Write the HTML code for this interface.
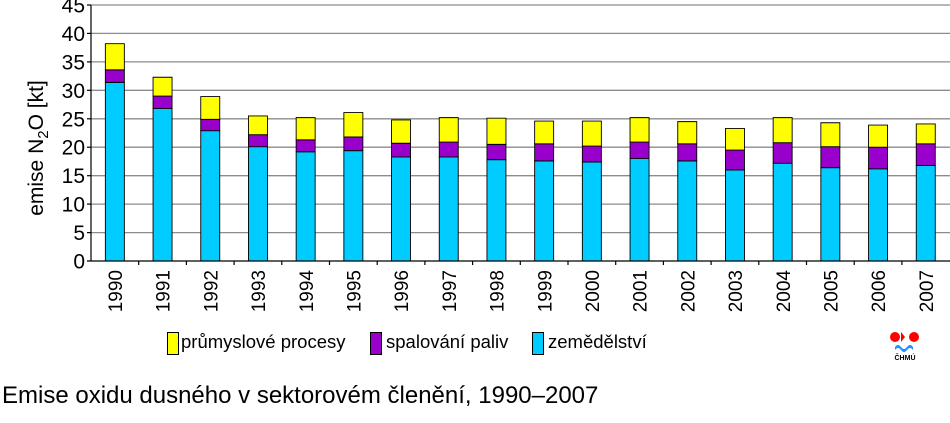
<!DOCTYPE html>
<html><head><meta charset="utf-8"><style>
html,body{margin:0;padding:0;background:#fff;}
svg{display:block;font-family:"Liberation Sans",Arial,sans-serif;}
</style></head><body>
<svg width="950" height="423" viewBox="0 0 950 423" xmlns="http://www.w3.org/2000/svg">
<g stroke="#8c8c8c" stroke-width="1.3">
<line x1="91" x2="950" y1="232.6" y2="232.6"/>
<line x1="91" x2="950" y1="204.1" y2="204.1"/>
<line x1="91" x2="950" y1="175.7" y2="175.7"/>
<line x1="91" x2="950" y1="147.2" y2="147.2"/>
<line x1="91" x2="950" y1="118.8" y2="118.8"/>
<line x1="91" x2="950" y1="90.3" y2="90.3"/>
<line x1="91" x2="950" y1="61.9" y2="61.9"/>
<line x1="91" x2="950" y1="33.4" y2="33.4"/>
<line x1="91" x2="950" y1="5" y2="5"/>
</g>
<g transform="translate(0,261) scale(1,-5.689)" stroke="#000" stroke-width="0.9">
<rect x="105.35" y="0" width="19" height="31.4" fill="#00ccff" vector-effect="non-scaling-stroke"/>
<rect x="105.35" y="31.4" width="19" height="2.2" fill="#9900cc" vector-effect="non-scaling-stroke"/>
<rect x="105.35" y="33.6" width="19" height="4.6" fill="#ffff00" vector-effect="non-scaling-stroke"/>
<rect x="153.05" y="0" width="19" height="26.8" fill="#00ccff" vector-effect="non-scaling-stroke"/>
<rect x="153.05" y="26.8" width="19" height="2.2" fill="#9900cc" vector-effect="non-scaling-stroke"/>
<rect x="153.05" y="29.0" width="19" height="3.3" fill="#ffff00" vector-effect="non-scaling-stroke"/>
<rect x="200.75" y="0" width="19" height="22.9" fill="#00ccff" vector-effect="non-scaling-stroke"/>
<rect x="200.75" y="22.9" width="19" height="2.0" fill="#9900cc" vector-effect="non-scaling-stroke"/>
<rect x="200.75" y="24.9" width="19" height="4.0" fill="#ffff00" vector-effect="non-scaling-stroke"/>
<rect x="248.45" y="0" width="19" height="20.1" fill="#00ccff" vector-effect="non-scaling-stroke"/>
<rect x="248.45" y="20.1" width="19" height="2.1" fill="#9900cc" vector-effect="non-scaling-stroke"/>
<rect x="248.45" y="22.2" width="19" height="3.3" fill="#ffff00" vector-effect="non-scaling-stroke"/>
<rect x="296.15" y="0" width="19" height="19.2" fill="#00ccff" vector-effect="non-scaling-stroke"/>
<rect x="296.15" y="19.2" width="19" height="2.1" fill="#9900cc" vector-effect="non-scaling-stroke"/>
<rect x="296.15" y="21.3" width="19" height="3.9" fill="#ffff00" vector-effect="non-scaling-stroke"/>
<rect x="343.85" y="0" width="19" height="19.4" fill="#00ccff" vector-effect="non-scaling-stroke"/>
<rect x="343.85" y="19.4" width="19" height="2.4" fill="#9900cc" vector-effect="non-scaling-stroke"/>
<rect x="343.85" y="21.8" width="19" height="4.3" fill="#ffff00" vector-effect="non-scaling-stroke"/>
<rect x="391.55" y="0" width="19" height="18.3" fill="#00ccff" vector-effect="non-scaling-stroke"/>
<rect x="391.55" y="18.3" width="19" height="2.4" fill="#9900cc" vector-effect="non-scaling-stroke"/>
<rect x="391.55" y="20.7" width="19" height="4.1" fill="#ffff00" vector-effect="non-scaling-stroke"/>
<rect x="439.25" y="0" width="19" height="18.3" fill="#00ccff" vector-effect="non-scaling-stroke"/>
<rect x="439.25" y="18.3" width="19" height="2.6" fill="#9900cc" vector-effect="non-scaling-stroke"/>
<rect x="439.25" y="20.9" width="19" height="4.3" fill="#ffff00" vector-effect="non-scaling-stroke"/>
<rect x="486.95" y="0" width="19" height="17.8" fill="#00ccff" vector-effect="non-scaling-stroke"/>
<rect x="486.95" y="17.8" width="19" height="2.7" fill="#9900cc" vector-effect="non-scaling-stroke"/>
<rect x="486.95" y="20.5" width="19" height="4.6" fill="#ffff00" vector-effect="non-scaling-stroke"/>
<rect x="534.65" y="0" width="19" height="17.6" fill="#00ccff" vector-effect="non-scaling-stroke"/>
<rect x="534.65" y="17.6" width="19" height="3.0" fill="#9900cc" vector-effect="non-scaling-stroke"/>
<rect x="534.65" y="20.6" width="19" height="4.0" fill="#ffff00" vector-effect="non-scaling-stroke"/>
<rect x="582.35" y="0" width="19" height="17.4" fill="#00ccff" vector-effect="non-scaling-stroke"/>
<rect x="582.35" y="17.4" width="19" height="2.8" fill="#9900cc" vector-effect="non-scaling-stroke"/>
<rect x="582.35" y="20.2" width="19" height="4.4" fill="#ffff00" vector-effect="non-scaling-stroke"/>
<rect x="630.05" y="0" width="19" height="18.0" fill="#00ccff" vector-effect="non-scaling-stroke"/>
<rect x="630.05" y="18.0" width="19" height="2.9" fill="#9900cc" vector-effect="non-scaling-stroke"/>
<rect x="630.05" y="20.9" width="19" height="4.3" fill="#ffff00" vector-effect="non-scaling-stroke"/>
<rect x="677.75" y="0" width="19" height="17.6" fill="#00ccff" vector-effect="non-scaling-stroke"/>
<rect x="677.75" y="17.6" width="19" height="3.0" fill="#9900cc" vector-effect="non-scaling-stroke"/>
<rect x="677.75" y="20.6" width="19" height="3.9" fill="#ffff00" vector-effect="non-scaling-stroke"/>
<rect x="725.45" y="0" width="19" height="16.0" fill="#00ccff" vector-effect="non-scaling-stroke"/>
<rect x="725.45" y="16.0" width="19" height="3.5" fill="#9900cc" vector-effect="non-scaling-stroke"/>
<rect x="725.45" y="19.5" width="19" height="3.8" fill="#ffff00" vector-effect="non-scaling-stroke"/>
<rect x="773.15" y="0" width="19" height="17.2" fill="#00ccff" vector-effect="non-scaling-stroke"/>
<rect x="773.15" y="17.2" width="19" height="3.6" fill="#9900cc" vector-effect="non-scaling-stroke"/>
<rect x="773.15" y="20.8" width="19" height="4.4" fill="#ffff00" vector-effect="non-scaling-stroke"/>
<rect x="820.85" y="0" width="19" height="16.4" fill="#00ccff" vector-effect="non-scaling-stroke"/>
<rect x="820.85" y="16.4" width="19" height="3.7" fill="#9900cc" vector-effect="non-scaling-stroke"/>
<rect x="820.85" y="20.1" width="19" height="4.2" fill="#ffff00" vector-effect="non-scaling-stroke"/>
<rect x="868.55" y="0" width="19" height="16.2" fill="#00ccff" vector-effect="non-scaling-stroke"/>
<rect x="868.55" y="16.2" width="19" height="3.8" fill="#9900cc" vector-effect="non-scaling-stroke"/>
<rect x="868.55" y="20.0" width="19" height="3.9" fill="#ffff00" vector-effect="non-scaling-stroke"/>
<rect x="916.25" y="0" width="19" height="16.8" fill="#00ccff" vector-effect="non-scaling-stroke"/>
<rect x="916.25" y="16.8" width="19" height="3.8" fill="#9900cc" vector-effect="non-scaling-stroke"/>
<rect x="916.25" y="20.6" width="19" height="3.5" fill="#ffff00" vector-effect="non-scaling-stroke"/>
</g>
<g stroke="#000" stroke-width="1.2">
<line x1="91" y1="5" x2="91" y2="261.5"/>
<line x1="87" y1="261" x2="950" y2="261"/>
<line x1="87" y1="5" x2="91" y2="5"/><line x1="87" y1="33.4" x2="91" y2="33.4"/><line x1="87" y1="61.9" x2="91" y2="61.9"/><line x1="87" y1="90.3" x2="91" y2="90.3"/><line x1="87" y1="118.8" x2="91" y2="118.8"/><line x1="87" y1="147.2" x2="91" y2="147.2"/><line x1="87" y1="175.7" x2="91" y2="175.7"/><line x1="87" y1="204.1" x2="91" y2="204.1"/><line x1="87" y1="232.6" x2="91" y2="232.6"/>
<line x1="138.7" y1="261" x2="138.7" y2="265"/><line x1="186.4" y1="261" x2="186.4" y2="265"/><line x1="234.1" y1="261" x2="234.1" y2="265"/><line x1="281.8" y1="261" x2="281.8" y2="265"/><line x1="329.5" y1="261" x2="329.5" y2="265"/><line x1="377.2" y1="261" x2="377.2" y2="265"/><line x1="424.9" y1="261" x2="424.9" y2="265"/><line x1="472.6" y1="261" x2="472.6" y2="265"/><line x1="520.3" y1="261" x2="520.3" y2="265"/><line x1="568" y1="261" x2="568" y2="265"/><line x1="615.7" y1="261" x2="615.7" y2="265"/><line x1="663.4" y1="261" x2="663.4" y2="265"/><line x1="711.1" y1="261" x2="711.1" y2="265"/><line x1="758.8" y1="261" x2="758.8" y2="265"/><line x1="806.5" y1="261" x2="806.5" y2="265"/><line x1="854.2" y1="261" x2="854.2" y2="265"/><line x1="901.9" y1="261" x2="901.9" y2="265"/>
</g>
<g font-size="21" text-anchor="end" fill="#000">
<text x="85" y="268.5">0</text><text x="85" y="240">5</text><text x="85" y="211.6">10</text><text x="85" y="183.2">15</text><text x="85" y="154.7">20</text><text x="85" y="126.3">25</text><text x="85" y="97.8">30</text><text x="85" y="69.4">35</text><text x="85" y="40.9">40</text><text x="85" y="12.5">45</text>
</g>
<text transform="translate(43,148) rotate(-90)" font-size="21" text-anchor="middle">emise N<tspan font-size="15" dy="5">2</tspan><tspan dy="-5">O [kt]</tspan></text>
<g font-size="19" text-anchor="end">
<text transform="translate(122,270) rotate(-90)">1990</text>
<text transform="translate(169.7,270) rotate(-90)">1991</text>
<text transform="translate(217.4,270) rotate(-90)">1992</text>
<text transform="translate(265.1,270) rotate(-90)">1993</text>
<text transform="translate(312.8,270) rotate(-90)">1994</text>
<text transform="translate(360.5,270) rotate(-90)">1995</text>
<text transform="translate(408.2,270) rotate(-90)">1996</text>
<text transform="translate(455.9,270) rotate(-90)">1997</text>
<text transform="translate(503.6,270) rotate(-90)">1998</text>
<text transform="translate(551.3,270) rotate(-90)">1999</text>
<text transform="translate(599,270) rotate(-90)">2000</text>
<text transform="translate(646.7,270) rotate(-90)">2001</text>
<text transform="translate(694.4,270) rotate(-90)">2002</text>
<text transform="translate(742.1,270) rotate(-90)">2003</text>
<text transform="translate(789.8,270) rotate(-90)">2004</text>
<text transform="translate(837.5,270) rotate(-90)">2005</text>
<text transform="translate(885.2,270) rotate(-90)">2006</text>
<text transform="translate(932.9,270) rotate(-90)">2007</text>
</g>
<g stroke="#000" stroke-width="1">
<rect x="167.5" y="332.5" width="11" height="22" fill="#ffff00"/>
<rect x="370.5" y="332.5" width="11" height="22" fill="#9900cc"/>
<rect x="532.5" y="332.5" width="11" height="22" fill="#00ccff"/>
</g>
<g font-size="18.5">
<text x="181" y="348">průmyslové procesy</text>
<text x="386" y="348">spalování paliv</text>
<text x="548" y="348">zemědělství</text>
</g>
<circle cx="895" cy="337" r="5" fill="#ff0000"/>
<path d="M901 332 L905 337 L901 342 Z" fill="#ff0000"/>
<circle cx="914" cy="337" r="5" fill="#ff0000"/>
<path d="M895 347 q3 -4 6 0 q3 4 6 0 q3 -4 6 0 l0 3 q-3 -4 -6 0 q-3 4 -6 0 q-3 -4 -6 0 z" fill="#1e90ff"/>
<text x="905" y="360" font-size="7" font-weight="bold" text-anchor="middle">ČHMÚ</text>
<text x="2" y="403" font-size="24">Emise oxidu dusného v sektorovém členění, 1990–2007</text>
</svg>
</body></html>
